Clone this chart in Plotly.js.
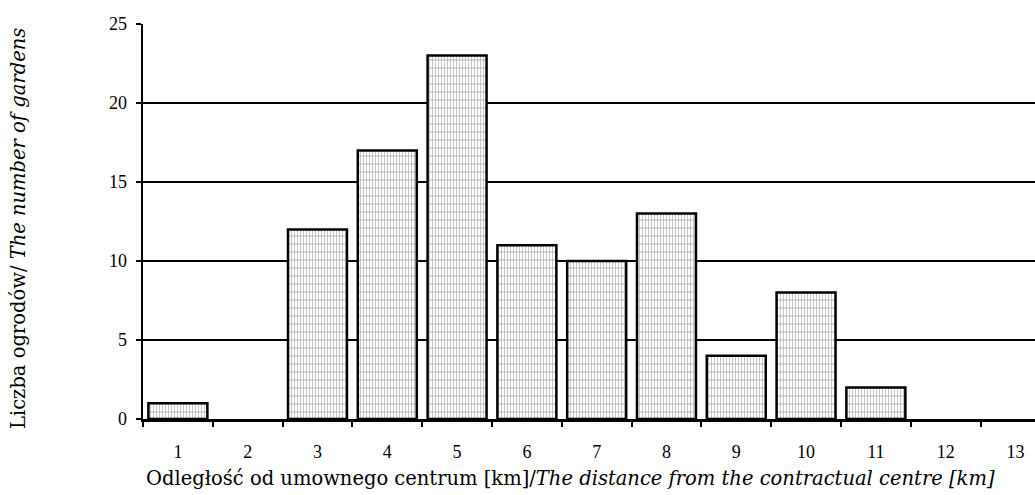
<!DOCTYPE html>
<html>
<head>
<meta charset="utf-8">
<script src="https://cdn.plot.ly/plotly-3.0.1.min.js"></script>
<style>html,body{margin:0;padding:0;background:#fff;}#chart{width:1035px;height:495px;}</style>
</head>
<body>
<div id="chart"></div>
<script>
const categories = ["1","2","3","4","5","6","7","8","9","10","11","12","13"];
const gardens = [1, 0, 12, 17, 23, 11, 10, 13, 4, 8, 2, 0, 0];
const yTicks = [0, 5, 10, 15, 20, 25];
const xTitle = "Odległość od umownego centrum [km]/<i>The distance from the contractual centre [km]</i>";
const yTitle = "Liczba ogrodów/ <i>The number of gardens</i>";

const serif = "Liberation Serif, Times New Roman, serif";
const titleFont = "DejaVu Serif, Palatino Linotype, Book Antiqua, serif";

const outlineWidths = gardens.map(v => (v > 0 ? 2.5 : 0));

const traces = [
  {
    type: "bar", x: categories, y: gardens,
    marker: {
      color: "#ffffff",
      line: {width: 0},
      pattern: {shape: "|", fgcolor: "#c4c4c4", bgcolor: "#ffffff", size: 3, solidity: 0.33}
    },
    hoverinfo: "x+y", showlegend: false
  },
  {
    type: "bar", x: categories, y: gardens,
    marker: {
      color: "rgba(0,0,0,0)",
      line: {width: outlineWidths, color: "#000"},
      pattern: {shape: "-", fgcolor: "#bdbdbd", bgcolor: "rgba(0,0,0,0)", size: 8, solidity: 0.15}
    },
    hoverinfo: "x+y", showlegend: false
  }
];

const layout = {
  width: 1035, height: 495,
  margin: {l: 143, r: 0, t: 24, b: 76},
  paper_bgcolor: "#fff", plot_bgcolor: "#fff",
  barmode: "overlay", bargap: 0.155,
  font: {family: serif, color: "#000", size: 18},
  xaxis: {
    type: "category",
    range: [-0.5, 12.28],
    tickson: "boundaries",
    ticks: "outside", ticklen: 5, tickwidth: 2, tickcolor: "#000",
    showgrid: false, zeroline: false,
    showline: true, linecolor: "#000", linewidth: 2.5,
    tickfont: {family: serif, size: 18, color: "#000"},
    ticklabelstandoff: 15,
    automargin: false
  },
  yaxis: {
    range: [0, 25],
    tickvals: yTicks,
    ticks: "outside", ticklen: 5, tickwidth: 2, tickcolor: "#000",
    showgrid: true, gridcolor: "#000", gridwidth: 2.5,
    zeroline: false,
    showline: true, linecolor: "#000", linewidth: 2.5,
    tickfont: {family: serif, size: 18, color: "#000"},
    ticklabelstandoff: 5,
    automargin: false
  },
  annotations: [
    {text: xTitle, xref: "paper", yref: "paper", x: (570 - 143) / 892, y: -(479 - 419) / 395,
     xanchor: "center", yanchor: "middle", showarrow: false,
     font: {family: titleFont, size: 19.5, color: "#000"}},
    {text: yTitle, xref: "paper", yref: "paper", x: -(143 - 18) / 892, y: (419 - 229) / 395,
     xanchor: "center", yanchor: "middle", showarrow: false, textangle: -90,
     font: {family: titleFont, size: 19.5, color: "#000"}}
  ]
};

Plotly.newPlot("chart", traces, layout, {displayModeBar: false, staticPlot: true});
</script>
</body>
</html>
